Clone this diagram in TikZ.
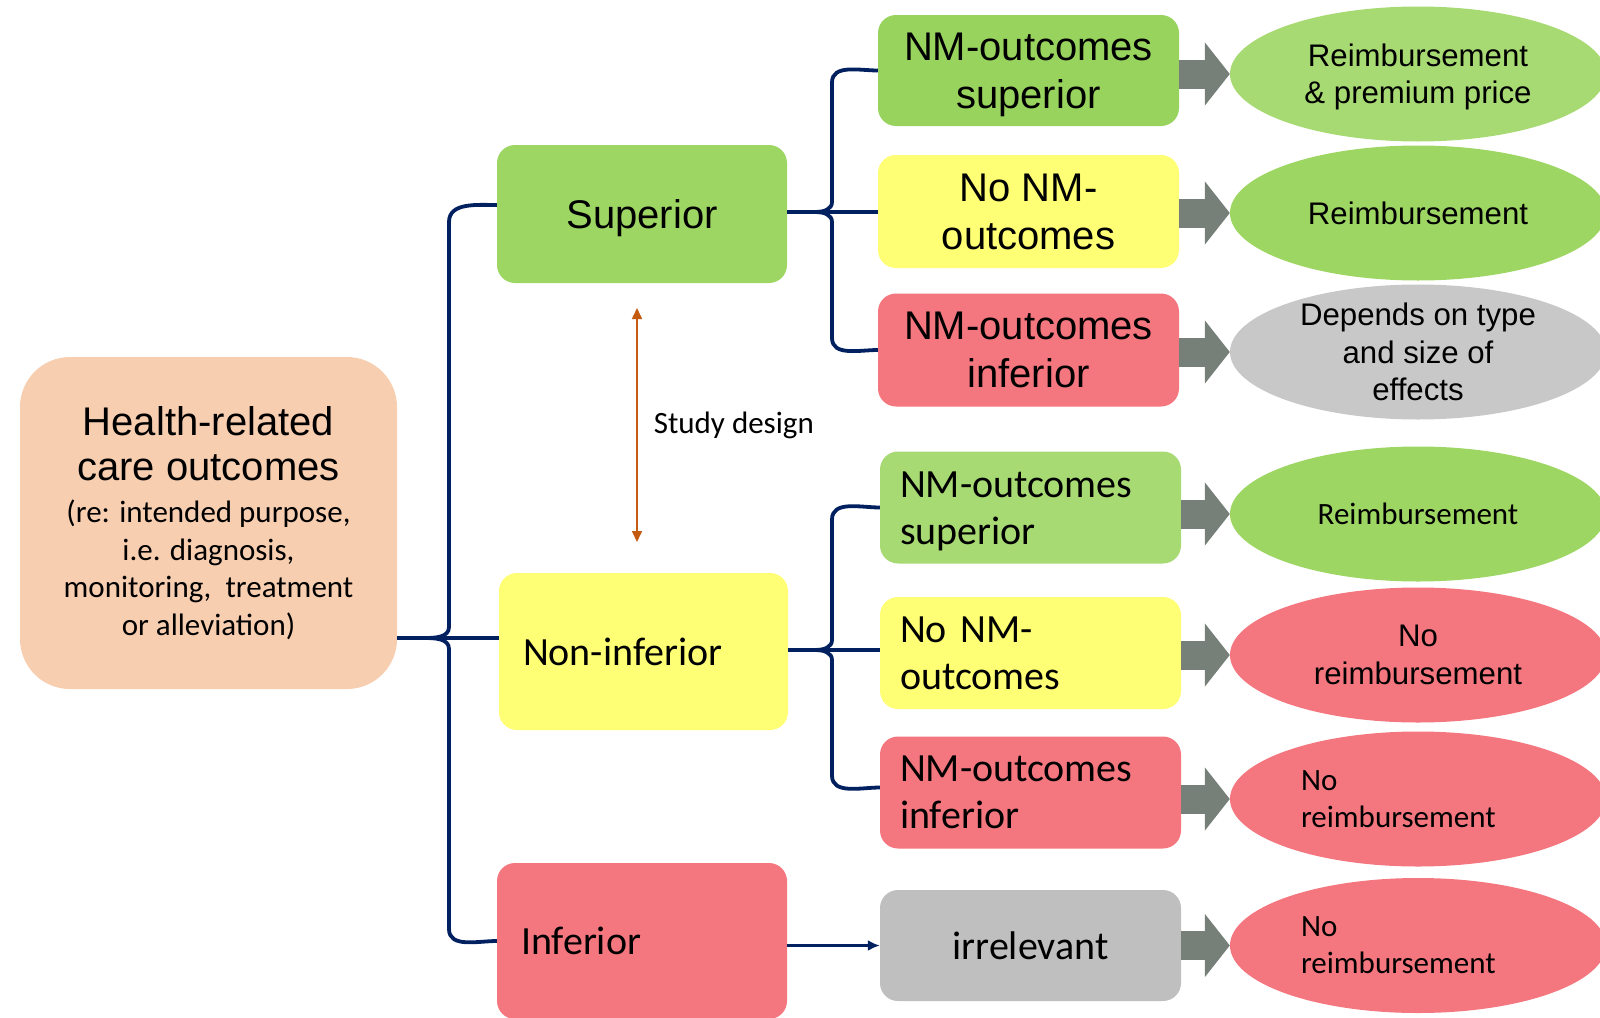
\documentclass[tikz,border=0pt]{standalone}
\usepackage{fontspec}
\newfontfamily\arialf{Liberation Sans}
\newfontfamily\calif{Carlito}
\usetikzlibrary{arrows.meta,shapes.geometric,calc}
\definecolor{peach}{HTML}{F8CEB1}
\definecolor{supgreen}{HTML}{9DD663}
\definecolor{darkgreen}{HTML}{98D35E}
\definecolor{lightgreen}{HTML}{A8DA74}
\definecolor{softyellow}{HTML}{FFFF75}
\definecolor{softred}{HTML}{F4777F}
\definecolor{boxgray}{HTML}{BFBFBF}
\definecolor{ellgray}{HTML}{C8C8C8}
\definecolor{navy}{HTML}{002060}
\definecolor{arrowgray}{HTML}{768079}
\definecolor{sdorange}{HTML}{C55A11}

\begin{document}
\begin{tikzpicture}[x=1pt,y=-1pt,
  boxnode/.style={rounded corners=18pt, inner sep=0pt, align=center, minimum width=301pt, minimum height=112pt},
  resnode/.style={ellipse, inner sep=-8pt, minimum width=376pt, minimum height=135pt, align=center},
  nodepth/.style={text depth=0pt},
  link/.style={draw=navy, line width=3.8pt},
  fatarrow/.style={draw=arrowgray, line width=29pt, -{Triangle[length=25pt,width=62pt]}},
  bigA/.style={font=\arialf\fontsize{40}{48}\selectfont},
  bigC/.style={font=\calif\fontsize{40}{47}\selectfont},
  smallA/.style={font=\arialf\fontsize{31.2}{37}\selectfont},
  smallC/.style={font=\calif\fontsize{31}{37}\selectfont}]
  \useasboundingbox (0,0) rectangle (1600,1017);

  % outcome and study results
  \node[boxnode, fill=peach, rounded corners=50pt, minimum width=377pt, minimum height=332pt,
        font=\calif\fontsize{31}{37.7}\selectfont] (health) at (208.5,523)
    {{\arialf\fontsize{40}{46}\selectfont Health-related}\\[8pt]{\arialf\fontsize{40}{46}\selectfont care outcomes}\\[4pt](re: intended purpose,\\i.e. diagnosis,\\monitoring,~ treatment\\or alleviation)};
  \node[boxnode, nodepth, fill=supgreen, bigA, minimum width=290pt, minimum height=138pt] (sup) at (642,214) {Superior};
  \node[boxnode, fill=softyellow, bigC, minimum width=289pt, minimum height=157pt, text width=241pt, align=left] (noninf) at (643.5,651.5) {Non-inferior};
  \node[boxnode, fill=softred, bigC, minimum width=290pt, minimum height=156pt, text width=242pt, align=left] (inf) at (642,941) {Inferior};

  % non-medical outcomes
  \node[boxnode, nodepth, fill=darkgreen, bigA, minimum height=111pt] (nmsupA) at (1028.5,70.5) {NM-outcomes\\superior};
  \node[boxnode, nodepth, fill=softyellow, bigA, minimum height=113pt] (nonmA) at (1028.5,211.5) {No NM-\\outcomes};
  \node[boxnode, nodepth, fill=softred, bigA, minimum height=113pt] (nminfA) at (1028.5,350) {NM-outcomes\\inferior};
  \node[boxnode, fill=lightgreen, bigC, text width=261pt, align=left, text depth=46pt] (nmsupB) at (1030.5,507.5) {NM-outcomes\\superior};
  \node[boxnode, fill=softyellow, bigC, text width=261pt, align=left] (nonmB) at (1030.5,653) {No NM-\\outcomes};
  \node[boxnode, fill=softred, bigC, text width=261pt, align=left] (nminfB) at (1030.5,792.5) {NM-outcomes\\inferior};
  \node[boxnode, nodepth, fill=boxgray, bigC, minimum height=111pt] (irr) at (1030.5,945.5) {irrelevant};

  % decisions
  \node[resnode, nodepth, fill=lightgreen, smallA] (resA) at (1418,74) {Reimbursement\\\& premium price};
  \node[resnode, nodepth, fill=supgreen, smallA] (resB) at (1418,213) {Reimbursement};
  \node[resnode, nodepth, fill=ellgray, font=\arialf\fontsize{31.2}{37.5}\selectfont] (resC) at (1418,352) {Depends on type\\and size of\\effects};
  \node[resnode, nodepth, fill=supgreen, smallC] (resD) at (1418,514) {Reimbursement};
  \node[resnode, nodepth, fill=softred, font=\arialf\fontsize{31.2}{38}\selectfont] (resE) at (1418,655) {No\\reimbursement};
  \node[resnode, fill=softred, smallC, text width=234pt, align=left] (resF) at (1418,799) {No\\reimbursement};
  \node[resnode, fill=softred, smallC, text width=234pt, align=left] (resG) at (1418,945.5) {No\\reimbursement};

  % braces
  \coordinate (lspine) at (449,638);
  \coordinate (ltip) at (424,638);
  \coordinate (rspineA) at (832,212);
  \coordinate (rtipA) at (816,212);
  \coordinate (rspineB) at (832,650);
  \coordinate (rtipB) at (816,650);

  \draw[link] ([yshift=9pt]sup.west) to[out=180,in=90] ($(lspine |- sup.west)+(0,8)$)
    -- ($(lspine)+(0,-11)$) to[out=270,in=0] (ltip) to[out=0,in=90] ($(lspine)+(0,11)$)
    -- ($(lspine |- inf.west)+(0,-12)$) to[out=270,in=180] (inf.west);
  \draw[link] (ltip -| health.east) -- (ltip -| noninf.west);

  \draw[link] (nmsupA.west) to[out=180,in=90] ($(rspineA |- nmsupA.west)+(0,12)$)
    -- ($(rspineA)+(0,-10)$) to[out=270,in=0] (rtipA) to[out=0,in=90] ($(rspineA)+(0,10)$)
    -- ($(rspineA |- nminfA.west)+(0,-12)$) to[out=270,in=180] (nminfA.west);
  \draw[link] (rtipA -| sup.east) -- (rtipA -| nonmA.west);

  \draw[link] (nmsupB.west) to[out=180,in=90] ($(rspineB |- nmsupB.west)+(0,12)$)
    -- ($(rspineB)+(0,-10)$) to[out=270,in=0] (rtipB) to[out=0,in=90] ($(rspineB)+(0,10)$)
    -- ($(rspineB |- nminfB.west)+(0,-17)$) to[out=270,in=180] ([yshift=5pt]nminfB.west);
  \draw[link] (rtipB -| noninf.east) -- (rtipB -| nonmB.west);

  \draw[link, -{Latex[length=12pt,width=11pt]}] (irr.west -| inf.east) -- (irr.west);

  % study design
  \coordinate (sdtop) at (637,308);
  \coordinate (sdbot) at (637,542);
  \draw[draw=sdorange, line width=1.6pt, {Triangle[length=11pt,width=10pt]}-{Triangle[length=11pt,width=10pt]}]
    (sdtop) -- node[right=16pt, inner sep=0pt, font=\calif\fontsize{31}{37}\selectfont] (sdlabel) {Study design} (sdbot);

  % to decisions
  \foreach \b/\e in {nmsupA/resA, nonmA/resB, nminfA/resC, nmsupB/resD, nonmB/resE, nminfB/resF, irr/resG}
    \draw[fatarrow] (\e.west -| \b.east) -- (\e.west);
\end{tikzpicture}
\end{document}
